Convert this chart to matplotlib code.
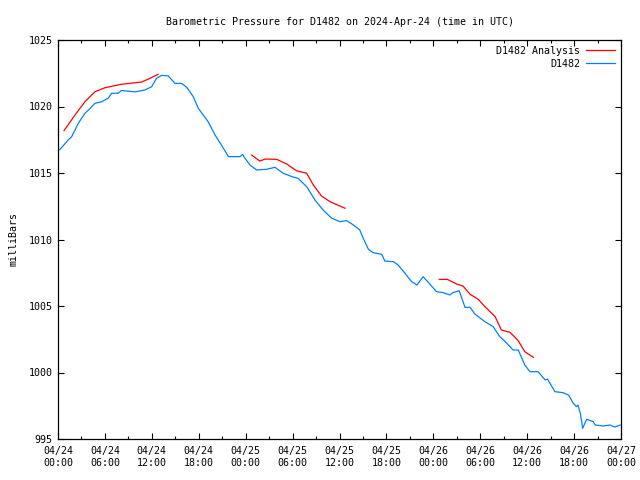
import matplotlib
matplotlib.use("Agg")
import matplotlib.pyplot as plt
from matplotlib.ticker import MultipleLocator, FixedLocator

# ---------------------------------------------------------------------------
# Values (x = hours after 2024-04-24 00:00 UTC)
# ---------------------------------------------------------------------------
STATION = "D1482"
START_DAY = 24
START_LABEL = "2024-Apr-24"

obs_hours = [0.0, 0.26, 1.3, 1.75, 2.6, 3.45, 3.9, 4.73, 5.6, 6.4, 6.86, 7.7,
             8.1, 9.85, 11.1, 11.98, 12.6, 13.26, 14.1, 14.96, 15.8, 16.46,
             17.3, 17.94, 19.2, 20.08, 20.9, 21.8, 23.27, 23.6, 23.8, 24.55,
             25.4, 26.7, 27.75, 28.8, 29.9, 30.7, 31.8, 32.86, 33.9, 35.0,
             36.06, 36.9, 37.76, 38.6, 39.04, 39.7, 40.3, 41.4, 41.8, 42.9,
             43.5, 44.37, 45.23, 45.9, 46.7, 47.35, 48.4, 49.27, 50.1, 50.5,
             51.3, 52.05, 52.7, 53.3, 54.6, 55.66, 56.5, 57.2, 58.2, 58.86,
             59.7, 60.36, 61.4, 62.3, 62.6, 63.55, 64.6, 65.3, 65.9, 66.3,
             66.5, 66.8, 67.1, 67.6, 68.45, 68.7, 69.7, 70.6, 71.2, 71.9]
obs_mbar = [1016.7, 1016.78, 1017.48, 1017.73, 1018.74, 1019.49, 1019.74,
            1020.24, 1020.36, 1020.62, 1020.99, 1021.0, 1021.2, 1021.1,
            1021.24, 1021.49, 1022.12, 1022.34, 1022.3, 1021.74, 1021.74,
            1021.44, 1020.74, 1019.86, 1018.86, 1017.86, 1017.1, 1016.23,
            1016.23, 1016.4, 1016.2, 1015.6, 1015.23, 1015.28, 1015.43,
            1014.98, 1014.73, 1014.6, 1013.97, 1012.97, 1012.22, 1011.6,
            1011.34, 1011.42, 1011.1, 1010.71, 1010.09, 1009.26, 1009.01,
            1008.89, 1008.38, 1008.33, 1008.08, 1007.46, 1006.83, 1006.58,
            1007.2, 1006.78, 1006.08, 1006.0, 1005.83, 1006.0, 1006.15,
            1004.9, 1004.9, 1004.4, 1003.82, 1003.44, 1002.69, 1002.32,
            1001.69, 1001.69, 1000.56, 1000.06, 1000.06, 999.44, 999.5,
            998.56, 998.48, 998.3, 997.68, 997.43, 997.55, 996.93, 995.8,
            996.48, 996.3, 996.05, 995.98, 996.05, 995.9, 996.05]

# analysis comes in three separate runs
ana_hours = [
    [0.77, 2.17, 3.45, 4.73, 6.0, 8.1, 10.7, 11.76, 12.8],
    [24.77, 25.8, 26.5, 27.96, 29.24, 30.5, 31.8, 32.65, 33.7, 34.8, 36.7],
    [48.76, 49.8, 50.98, 51.8, 52.7, 53.75, 54.6, 55.9, 56.7, 57.8, 58.86,
     59.7, 60.8],
]
ana_mbar = [
    [1018.18, 1019.36, 1020.36, 1021.11, 1021.41, 1021.67, 1021.84,
     1022.12, 1022.42],
    [1016.35, 1015.9, 1016.05, 1016.03, 1015.68, 1015.17, 1014.98,
     1014.1, 1013.27, 1012.84, 1012.35],
    [1007.0, 1007.0, 1006.65, 1006.5, 1005.88, 1005.5, 1004.95, 1004.2,
     1003.2, 1003.02, 1002.39, 1001.56, 1001.14],
]

TICK_HOURS = list(range(0, 73, 6))
TICK_LABELS = [f"04/{START_DAY + h // 24:02d}\n{h % 24:02d}:00" for h in TICK_HOURS]

RED = "#ff0000"
BLUE = "#0080ff"


def main() -> None:
    plt.rcParams["font.family"] = "DejaVu Sans Mono"
    plt.rcParams["font.size"] = 7.2

    fig = plt.figure(figsize=(6.4, 4.8), dpi=100)
    ax = fig.add_axes([58 / 640, 1 - 439 / 480, 563 / 640, 399 / 480])

    # analysis runs (only first one gets a legend entry)
    for i, (hh, pp) in enumerate(zip(ana_hours, ana_mbar)):
        ax.plot(hh, pp, color=RED, linewidth=0.9,
                label=f"{STATION} Analysis" if i == 0 else None)
    ax.plot(obs_hours, obs_mbar, color=BLUE, linewidth=0.9, label=STATION)

    ax.set_xlim(0, 72)
    ax.set_ylim(995, 1025)
    ax.xaxis.set_major_locator(FixedLocator(TICK_HOURS))
    ax.xaxis.set_minor_locator(MultipleLocator(3))
    ax.set_xticklabels(TICK_LABELS, linespacing=1.3)
    ax.yaxis.set_major_locator(MultipleLocator(5))

    ax.tick_params(which="both", direction="in", top=True, right=True,
                   color="black", width=0.8, labelsize=7.2)
    ax.tick_params(which="major", length=4)
    ax.tick_params(axis="x", which="major", pad=5)
    ax.tick_params(axis="y", which="major", pad=4)
    ax.tick_params(which="minor", length=2)
    for spine in ax.spines.values():
        spine.set_linewidth(0.9)

    ax.set_ylabel("milliBars", labelpad=7)
    ax.set_title(f"Barometric Pressure for {STATION} on {START_LABEL} (time in UTC)",
                 fontsize=7.2, pad=11)

    ax.legend(loc="upper right", frameon=False, markerfirst=False,
              handlelength=2.9, handletextpad=0.6, labelspacing=0.3,
              borderaxespad=0.2)

    fig.savefig("out.png", dpi=100)
    plt.close(fig)


if __name__ == "__main__":
    main()
